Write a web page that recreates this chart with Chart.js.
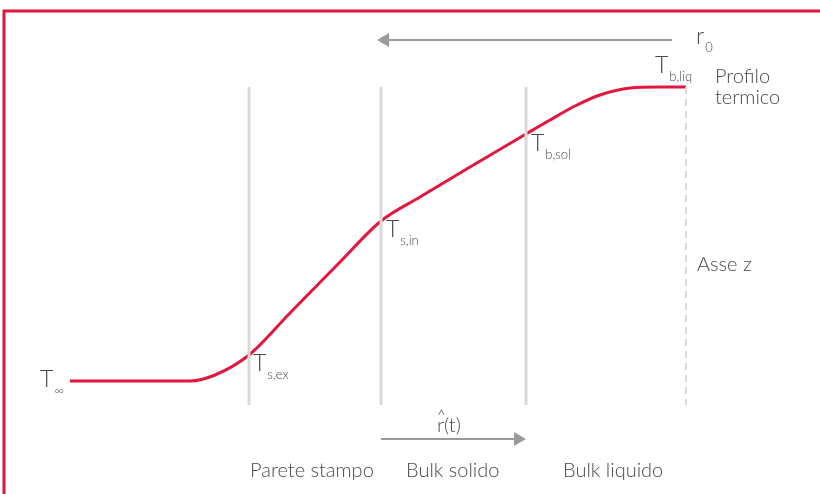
<!DOCTYPE html>
<html>
<head>
<meta charset="utf-8">
<script src="https://cdn.jsdelivr.net/npm/chart.js@4"></script>
<style>
  body{margin:0;background:#fff;}
  canvas{display:block;}
</style>
</head>
<body>
<canvas id="profilo" width="820" height="494"></canvas>
<script>
/* profilo termico (coordinate in unità di schema) */

const curvaX = [70, 190, 215, 249, 290, 340, 381, 420, 470, 526, 550, 575, 600, 630, 660, 686];
const curvaY = [381, 381, 375, 355, 313, 262, 221, 197, 167, 134, 120, 106, 95, 88, 87, 87];

const pareti = [249, 381, 526];     // linee verticali grigie
const asseZ = 686;                  // linea tratteggiata
const pareteTop = 87, pareteBottom = 405;

const frecciaR0 = [[672, 40], [385, 40]];
const frecciaRt = [[381, 439], [518, 439]];

const etichetteT = [
  {x: 40,  y: 387, t: "T", s: "∞"},
  {x: 253, y: 371, t: "T", s: "s,ex"},
  {x: 386, y: 237, t: "T", s: "s,in"},
  {x: 531, y: 151, t: "T", s: "b,sol"},
  {x: 655, y: 73,  t: "T", s: "b,liq"},
  {x: 696, y: 44,  t: "r", s: "0"}
];
const testi = [
  {x: 715, y: 83,  t: "Profilo"},
  {x: 715, y: 104, t: "termico"},
  {x: 697, y: 271, t: "Asse z"},
  {x: 250, y: 477, t: "Parete stampo"},
  {x: 406, y: 477, t: "Bulk solido"},
  {x: 563, y: 477, t: "Bulk liquido"}
];

const ROSSO = "#e3173e";
const GRIGIO = "#d9d9d9";
const FONT = "Lato, 'Open Sans', sans-serif";

function punti(xs, ys){
  return xs.map((x,i)=>({x:x, y:ys[i]}));
}

const datasets = [];

// cornice rossa
datasets.push({data:[{x:4,y:494},{x:4,y:11},{x:820,y:11}], borderColor:ROSSO, borderWidth:3, pointRadius:0, tension:0});

pareti.forEach(x=>{
  datasets.push({data:[{x:x,y:pareteTop},{x:x,y:pareteBottom}], borderColor:GRIGIO, borderWidth:3, pointRadius:0});
});
datasets.push({data:[{x:asseZ,y:pareteTop},{x:asseZ,y:pareteBottom}], borderColor:GRIGIO, borderWidth:2, borderDash:[7,5], pointRadius:0});

// frecce
datasets.push({data:frecciaR0.map(p=>({x:p[0],y:p[1]})), borderColor:"#9a9a9a", backgroundColor:"#9a9a9a", borderWidth:2,
  pointStyle:"triangle", pointRadius:[0,8], pointRotation:-90, pointBorderWidth:0});
datasets.push({data:frecciaRt.map(p=>({x:p[0],y:p[1]})), borderColor:"#9a9a9a", backgroundColor:"#9a9a9a", borderWidth:2,
  pointStyle:"triangle", pointRadius:[0,8], pointRotation:90, pointBorderWidth:0});

// curva
datasets.push({data:punti(curvaX, curvaY), borderColor:ROSSO, borderWidth:3, pointRadius:0, cubicInterpolationMode:"monotone"});

const testoPlugin = {
  id:"testi",
  afterDatasetsDraw(chart){
    const ctx = chart.ctx;
    const sx = chart.scales.x, sy = chart.scales.y;
    ctx.save();
    ctx.fillStyle = "#4a4a4a";
    ctx.textBaseline = "alphabetic";
    etichetteT.forEach(e=>{
      const px = sx.getPixelForValue(e.x), py = sy.getPixelForValue(e.y);
      ctx.font = "300 23px " + FONT;
      ctx.fillText(e.t, px, py);
      const w = ctx.measureText(e.t).width;
      ctx.font = "300 13px " + FONT;
      ctx.fillText(e.s, px + w + 1, py + 8);
    });
    ctx.font = "300 20px " + FONT;
    testi.forEach(e=>{
      ctx.fillText(e.t, sx.getPixelForValue(e.x), sy.getPixelForValue(e.y));
    });
    // r(t) con cappello
    const rx = sx.getPixelForValue(437), ry = sy.getPixelForValue(432);
    ctx.font = "300 20px " + FONT;
    ctx.fillText("r(t)", rx, ry);
    ctx.font = "300 15px " + FONT;
    ctx.fillText("^", rx, ry - 11);
    ctx.restore();
  }
};

new Chart(document.getElementById("profilo"), {
  type:"line",
  data:{datasets:datasets},
  options:{
    responsive:false,
    animation:false,
    layout:{padding:0, autoPadding:false},
    plugins:{legend:{display:false}, tooltip:{enabled:false}},
    elements:{line:{borderCapStyle:"butt"}},
    datasets:{line:{clip:false, fill:false}},
    scales:{
      x:{type:"linear", min:0, max:820, display:false},
      y:{type:"linear", min:0, max:494, reverse:true, display:false}
    }
  },
  plugins:[testoPlugin]
});
</script>
</body>
</html>
